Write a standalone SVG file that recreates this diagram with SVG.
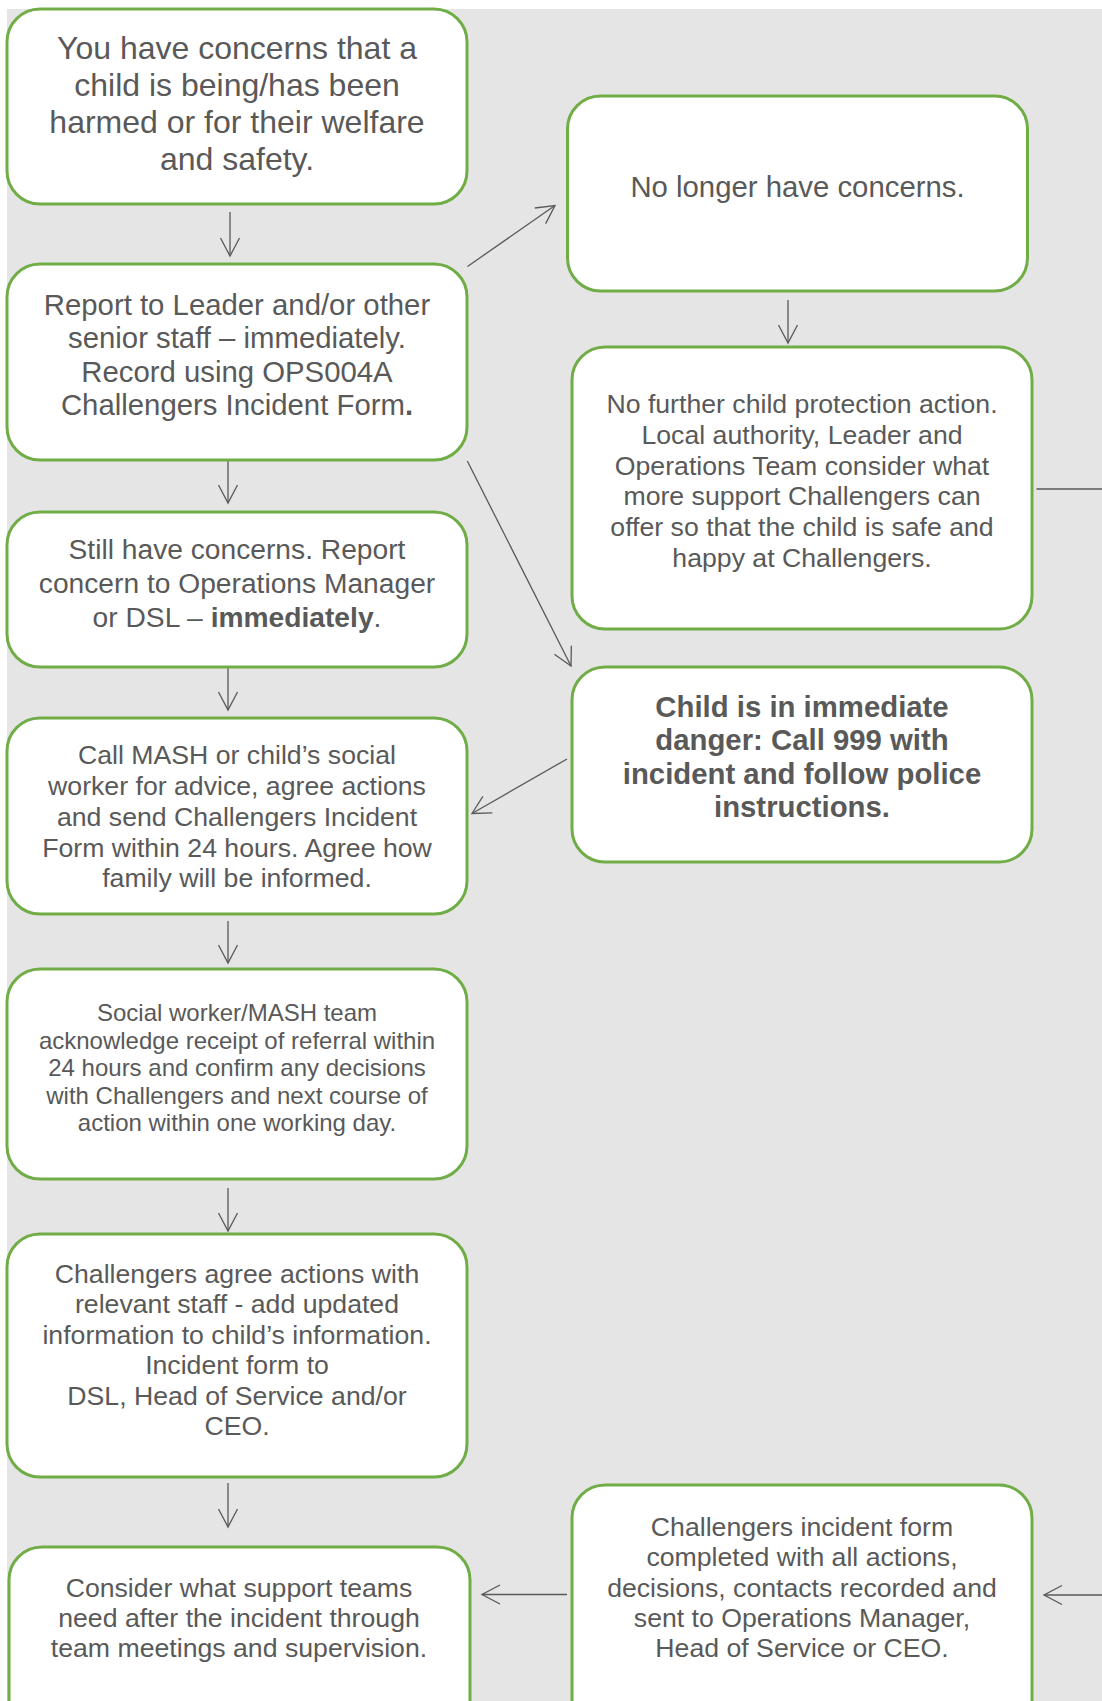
<svg xmlns="http://www.w3.org/2000/svg" width="1102" height="1701" viewBox="0 0 1102 1701">
<defs>
<style>
.box{fill:#ffffff;stroke:#70AD47;stroke-width:3}
.t{font-family:"Liberation Sans",Arial,sans-serif;fill:#595959;text-anchor:middle}
.b{font-weight:bold}
.c{fill:none;stroke:#595959;stroke-width:1.3}
</style>
<marker id="ah" markerUnits="userSpaceOnUse" markerWidth="24" markerHeight="24" viewBox="-20 -12 24 24" refX="0" refY="0" orient="auto">
<path d="M-18,-9.5 L0,0 L-18,9.5" fill="none" stroke="#595959" stroke-width="1.3"/>
</marker>
</defs>
<rect x="7" y="9" width="1095" height="1692" fill="#e5e5e5"/>
<g id="connectors">
<line class="c" x1="230" y1="212" x2="230" y2="256" marker-end="url(#ah)"/>
<line class="c" x1="228" y1="461" x2="228" y2="503" marker-end="url(#ah)"/>
<line class="c" x1="228" y1="667" x2="228" y2="710" marker-end="url(#ah)"/>
<line class="c" x1="228" y1="921" x2="228" y2="963" marker-end="url(#ah)"/>
<line class="c" x1="228" y1="1188" x2="228" y2="1231" marker-end="url(#ah)"/>
<line class="c" x1="228" y1="1483" x2="228" y2="1527" marker-end="url(#ah)"/>
<line class="c" x1="467.5" y1="266.5" x2="555" y2="205.5" marker-end="url(#ah)"/>
<line class="c" x1="788" y1="300" x2="788" y2="343" marker-end="url(#ah)"/>
<line class="c" x1="467.3" y1="461" x2="571" y2="666" marker-end="url(#ah)"/>
<line class="c" x1="567" y1="759" x2="472" y2="813.5" marker-end="url(#ah)"/>
<line class="c" x1="1036.5" y1="489" x2="1102" y2="489"/>
<line class="c" x1="1102" y1="1595" x2="1044" y2="1595" marker-end="url(#ah)"/>
<line class="c" x1="567" y1="1594.5" x2="482" y2="1594.5" marker-end="url(#ah)"/>
</g>
<g id="n1">
<rect class="box" x="7" y="9" width="460" height="195" rx="33"/>
<text class="t" font-size="32"><tspan x="237" y="59">You have concerns that a</tspan><tspan x="237" y="96">child is being/has been</tspan><tspan x="237" y="133">harmed or for their welfare</tspan><tspan x="237" y="169.5">and safety.</tspan></text>
</g>
<g id="n2">
<rect class="box" x="7" y="264" width="460" height="196" rx="33"/>
<text class="t" font-size="29.33"><tspan x="237" y="315">Report to Leader and/or other</tspan><tspan x="237" y="348">senior staff – immediately.</tspan><tspan x="237" y="381.5">Record using OPS004A</tspan><tspan x="237" y="415">Challengers Incident Form<tspan class="b">.</tspan></tspan></text>
</g>
<g id="n3">
<rect class="box" x="7" y="512" width="460" height="155" rx="33"/>
<text class="t" font-size="28.2"><tspan x="237" y="559">Still have concerns. Report</tspan><tspan x="237" y="593">concern to Operations Manager</tspan><tspan x="237" y="627">or DSL – <tspan class="b">immediately</tspan>.</tspan></text>
</g>
<g id="n4">
<rect class="box" x="7" y="718" width="460" height="196" rx="33"/>
<text class="t" font-size="26.67"><tspan x="237" y="764">Call MASH or child’s social</tspan><tspan x="237" y="794.5">worker for advice, agree actions</tspan><tspan x="237" y="825.5">and send Challengers Incident</tspan><tspan x="237" y="856.5">Form within 24 hours. Agree how</tspan><tspan x="237" y="887">family will be informed.</tspan></text>
</g>
<g id="n5">
<rect class="box" x="7" y="969" width="460" height="210" rx="33"/>
<text class="t" font-size="24"><tspan x="237" y="1021">Social worker/MASH team</tspan><tspan x="237" y="1048.5">acknowledge receipt of referral within</tspan><tspan x="237" y="1076">24 hours and confirm any decisions</tspan><tspan x="237" y="1104">with Challengers and next course of</tspan><tspan x="237" y="1131">action within one working day.</tspan></text>
</g>
<g id="n6">
<rect class="box" x="7" y="1234" width="460" height="243" rx="33"/>
<text class="t" font-size="26.67"><tspan x="237" y="1283">Challengers agree actions with</tspan><tspan x="237" y="1313.4">relevant staff - add updated</tspan><tspan x="237" y="1343.8">information to child’s information.</tspan><tspan x="237" y="1374.2">Incident form to</tspan><tspan x="237" y="1404.6">DSL, Head of Service and/or</tspan><tspan x="237" y="1435">CEO.</tspan></text>
</g>
<g id="n7">
<rect class="box" x="9" y="1547" width="461" height="200" rx="33"/>
<text class="t" font-size="26.67"><tspan x="239" y="1597">Consider what support teams</tspan><tspan x="239" y="1627">need after the incident through</tspan><tspan x="239" y="1657">team meetings and supervision.</tspan></text>
</g>
<g id="nA">
<rect class="box" x="567.5" y="96" width="460" height="195" rx="33"/>
<text class="t" font-size="29.33" x="797.5" y="197">No longer have concerns.</text>
</g>
<g id="nB">
<rect class="box" x="572" y="347" width="460" height="282" rx="33"/>
<text class="t" font-size="26.67"><tspan x="802" y="413.3">No further child protection action.</tspan><tspan x="802" y="444">Local authority, Leader and</tspan><tspan x="802" y="474.7">Operations Team consider what</tspan><tspan x="802" y="505.4">more support Challengers can</tspan><tspan x="802" y="536.1">offer so that the child is safe and</tspan><tspan x="802" y="566.8">happy at Challengers.</tspan></text>
</g>
<g id="nC">
<rect class="box" x="572" y="667" width="460" height="195" rx="33"/>
<text class="t b" font-size="29.33"><tspan x="802" y="717">Child is in immediate</tspan><tspan x="802" y="750.3">danger: Call 999 with</tspan><tspan x="802" y="783.7">incident and follow police</tspan><tspan x="802" y="817">instructions.</tspan></text>
</g>
<g id="nD">
<rect class="box" x="572" y="1485" width="460" height="260" rx="33"/>
<text class="t" font-size="26.67"><tspan x="802" y="1536">Challengers incident form</tspan><tspan x="802" y="1566.3">completed with all actions,</tspan><tspan x="802" y="1596.6">decisions, contacts recorded and</tspan><tspan x="802" y="1626.9">sent to Operations Manager,</tspan><tspan x="802" y="1657.2">Head of Service or CEO.</tspan></text>
</g>
</svg>
